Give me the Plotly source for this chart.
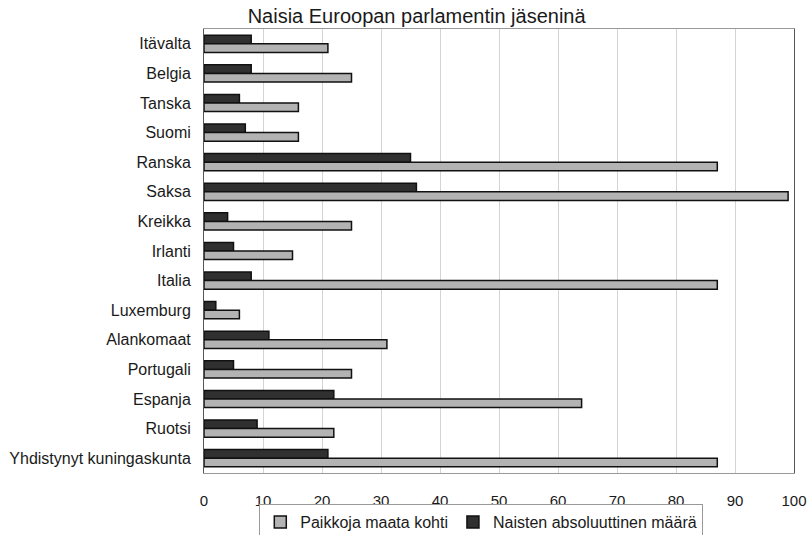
import plotly.graph_objects as go

countries = ["Itävalta", "Belgia", "Tanska", "Suomi", "Ranska", "Saksa", "Kreikka",
             "Irlanti", "Italia", "Luxemburg", "Alankomaat", "Portugali", "Espanja",
             "Ruotsi", "Yhdistynyt kuningaskunta"]
seats = [21, 25, 16, 16, 87, 99, 25, 15, 87, 6, 31, 25, 64, 22, 87]
women = [8, 8, 6, 7, 35, 36, 4, 5, 8, 2, 11, 5, 22, 9, 21]

title = "Naisia Euroopan parlamentin jäseninä"
name_seats = "Paikkoja maata kohti"
name_women = "Naisten absoluuttinen määrä"
xticks = [0, 10, 20, 30, 40, 50, 60, 70, 80, 90, 100]

font = "Arial, 'Liberation Sans', sans-serif"

fig = go.Figure()
fig.add_trace(go.Bar(y=countries, x=women, orientation="h", name=name_women,
                     marker=dict(color="#303030", line=dict(color="#111111", width=1.5)),
                     legendrank=2))
fig.add_trace(go.Bar(y=countries, x=seats, orientation="h", name=name_seats,
                     marker=dict(color="#b3b3b3", line=dict(color="#111111", width=1.5)),
                     legendrank=1))

fig.update_layout(
    width=809, height=535,
    margin=dict(l=204, r=15, t=29, b=62, autoexpand=False),
    paper_bgcolor="white", plot_bgcolor="white",
    font=dict(family=font, size=16, color="#1a1a1a"),
    title=dict(text=title, x=0.515, xanchor="center", y=0.970, yanchor="middle",
               font=dict(size=20, color="#1a1a1a")),
    barmode="group", bargap=0.42, bargroupgap=0,
    showlegend=True,
    legend=dict(orientation="h", x=0.47, xanchor="center", y=-0.07, yanchor="top",
                bordercolor="#999999", borderwidth=1, font=dict(size=16),
                itemwidth=30, tracegroupgap=0),
)
fig.update_xaxes(range=[0, 100], tickvals=xticks, showgrid=True, gridcolor="#d4d4d4",
                 gridwidth=1, showline=True, linecolor="#999999", mirror=True,
                 ticks="", ticklabelstandoff=14, zeroline=False, fixedrange=True,
                 automargin=False, tickfont=dict(size=15))
fig.update_yaxes(autorange="reversed", showline=True, linecolor="#555555", mirror=True,
                 ticks="", ticklabelstandoff=9, showgrid=False, fixedrange=True,
                 automargin=False, tickfont=dict(size=16))

fig.write_html("out.html", config={"displayModeBar": False},
               post_script="document.body.style.margin='0px';document.body.style.overflow='hidden';")
